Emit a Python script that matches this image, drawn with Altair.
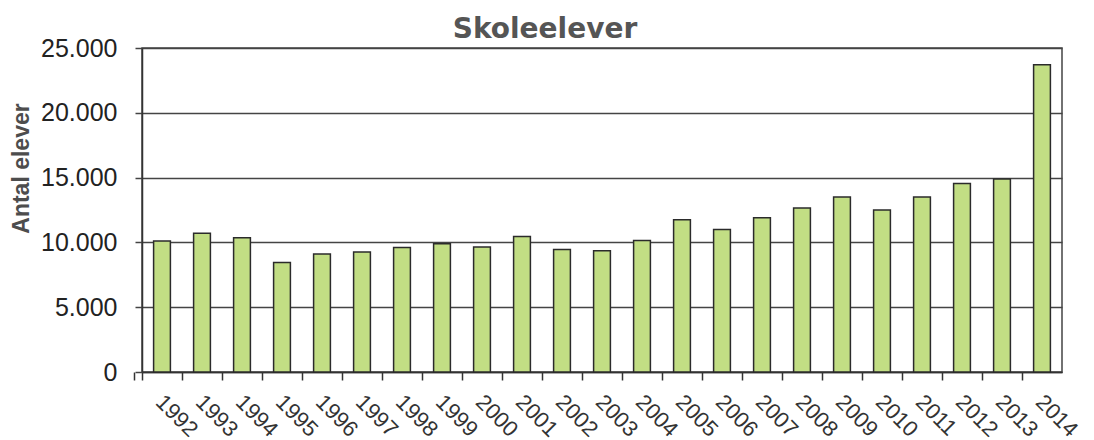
import altair as alt
import pandas as pd

years = ["1992", "1993", "1994", "1995", "1996", "1997", "1998", "1999", "2000",
         "2001", "2002", "2003", "2004", "2005", "2006", "2007", "2008", "2009",
         "2010", "2011", "2012", "2013", "2014"]
students = [10100, 10700, 10350, 8450, 9100, 9250, 9600, 9900, 9650,
            10450, 9450, 9350, 10150, 11750, 11000, 11900, 12650, 13500,
            12500, 13500, 14550, 14900, 23700]
y_ticks = [0, 5000, 10000, 15000, 20000, 25000]

df = pd.DataFrame({"year": years, "value": students})

FONT = "Liberation Sans"
W, H = 920, 324
half_step = W / len(years) / 2

chart = alt.Chart(df).mark_bar(
    color="#c2de84", stroke="#2b2b2b", strokeWidth=1.5
).encode(
    x=alt.X(
        "year:N", sort=None,
        scale=alt.Scale(paddingInner=0.58, paddingOuter=0.29),
        axis=alt.Axis(
            title=None, labelAngle=45, labelAlign="left", labelBaseline="top",
            labelFontSize=22, labelColor="#333333", labelFont=FONT, labelPadding=11,
            tickOffset=-half_step, labelOffset=half_step + 4, tickExtra=True,
            tickSize=8, tickColor="#333333", tickWidth=1.5,
            domainColor="#333333", domainWidth=1.5, grid=False,
        ),
    ),
    y=alt.Y(
        "value:Q",
        scale=alt.Scale(domain=[0, 25000], nice=False),
        axis=alt.Axis(
            values=y_ticks,
            labelExpr="replace(format(datum.value, ','), ',', '.')",
            labelFontSize=25, labelColor="#222222", labelFont=FONT, labelPadding=18,
            tickSize=7, tickColor="#444444", tickWidth=1.5,
            domainColor="#333333", domainWidth=1.5,
            gridColor="#444444", gridWidth=1.5,
            title="Antal elever", titleFont=FONT, titleFontSize=23,
            titleFontWeight="bold", titleColor="#4d4d4d",
            titleX=-121, titleY=120, titleAlign="center", titleBaseline="middle",
        ),
    ),
).properties(
    width=W, height=H,
    title=alt.TitleParams(
        "Skoleelever", font="DejaVu Sans", fontSize=28, fontWeight="bold",
        color="#555555", anchor="middle", dx=-57, offset=-8,
    ),
    padding={"left": 134, "top": 40, "right": 24, "bottom": 90},
    autosize="none",
).configure_view(stroke="#444444", strokeWidth=1.5)

chart.save("out.html", embed_options={"renderer": "svg", "actions": False})
